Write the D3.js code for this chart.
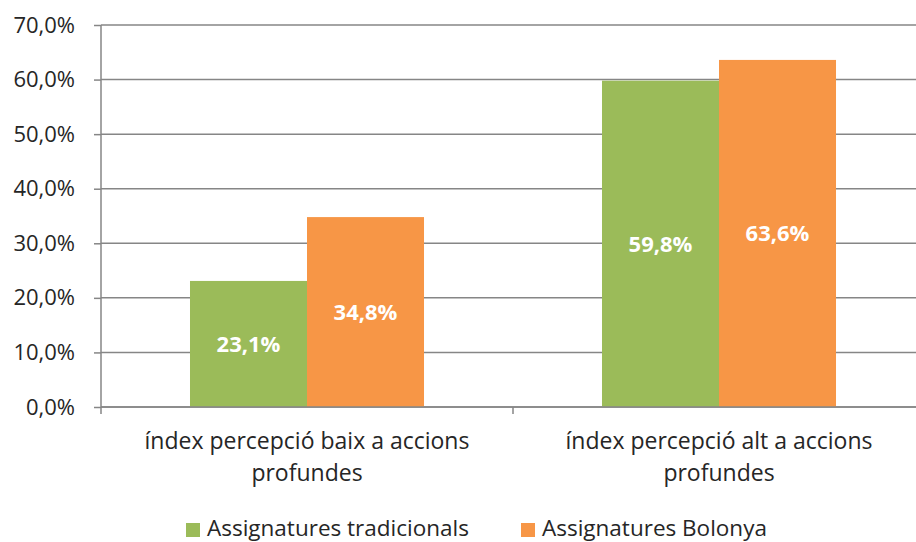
<!DOCTYPE html>
<html>
<head>
<meta charset="utf-8">
<script src="https://cdn.jsdelivr.net/npm/d3@7"></script>
<style>
  body { margin: 0; background: #fff; }
  svg { display: block; font-family: "Open Sans", sans-serif; }
  svg text { font-family: "Open Sans", sans-serif; }
</style>
</head>
<body>
<svg id="chart" width="916" height="542"></svg>
<script>
// data
const categories = [
  ["índex percepció baix a accions", "profundes"],
  ["índex percepció alt a accions", "profundes"]
];
const seriesNames = ["Assignatures tradicionals", "Assignatures Bolonya"];
const traditional = [23.1, 59.8];
const bologna = [34.8, 63.6];
const yTicks = [0, 10, 20, 30, 40, 50, 60, 70];
const colors = ["#9BBB59", "#F79646"];

const svg = d3.select("#chart");
const plotLeft = 101, plotRight = 925, plotTop = 25, plotBottom = 407;
const textColor = "#262626";
const gridColor = "#868686";

const x = d3.scaleBand()
  .domain(d3.range(categories.length))
  .range([plotLeft, plotRight])
  .paddingInner(0.432)
  .paddingOuter(0.216);

const xSub = d3.scaleBand()
  .domain(d3.range(seriesNames.length))
  .range([0, x.bandwidth()]);

const y = d3.scaleLinear()
  .domain([0, 70])
  .range([plotBottom, plotTop]);

const fmt = v => d3.format(".1f")(v).replace(".", ",") + "%";

// y axis ticks + labels
const yAxis = svg.append("g")
  .attr("transform", "translate(" + plotLeft + ",0)")
  .call(d3.axisLeft(y).tickValues(yTicks).tickSize(7).tickPadding(19).tickFormat(fmt));
yAxis.attr("font-family", null);
yAxis.select(".domain").remove();
yAxis.selectAll("line").attr("stroke", gridColor).attr("stroke-width", 1.5);
yAxis.selectAll("text")
  .attr("font-size", 22)
  .attr("fill", textColor);

// gridlines
svg.append("g")
  .selectAll("line")
  .data(yTicks)
  .enter()
  .append("line")
  .attr("x1", plotLeft)
  .attr("x2", 916)
  .attr("y1", d => y(d))
  .attr("y2", d => y(d))
  .attr("stroke", gridColor)
  .attr("stroke-width", 1.5);

// bars
const rows = [traditional, bologna];
const groups = svg.append("g")
  .selectAll("g")
  .data(categories.map((c, i) => i))
  .enter()
  .append("g")
  .attr("transform", i => "translate(" + x(i) + ",0)");

groups.selectAll("rect")
  .data(i => rows.map((r, s) => ({ s: s, v: r[i] })))
  .enter()
  .append("rect")
  .attr("x", d => xSub(d.s))
  .attr("width", xSub.bandwidth())
  .attr("y", d => y(d.v))
  .attr("height", d => y(0) - y(d.v))
  .attr("fill", d => colors[d.s]);

groups.selectAll("text")
  .data(i => rows.map((r, s) => ({ s: s, v: r[i] })))
  .enter()
  .append("text")
  .attr("x", d => xSub(d.s) + xSub.bandwidth() / 2)
  .attr("y", d => (y(d.v) + y(0)) / 2)
  .attr("dy", "0.36em")
  .attr("text-anchor", "middle")
  .attr("font-size", 22)
  .attr("font-weight", "bold")
  .attr("fill", "#fff")
  .text(d => fmt(d.v));

// y axis line
svg.append("line")
  .attr("x1", plotLeft).attr("x2", plotLeft)
  .attr("y1", plotTop).attr("y2", plotBottom)
  .attr("stroke", gridColor)
  .attr("stroke-width", 1.5);

// x axis
svg.append("line")
  .attr("x1", plotLeft).attr("x2", 916)
  .attr("y1", plotBottom).attr("y2", plotBottom)
  .attr("stroke", gridColor)
  .attr("stroke-width", 1.5);

const xTicks = [plotLeft, x(1) - x.step() * x.paddingInner() / 2, plotRight];
svg.append("g")
  .selectAll("line")
  .data(xTicks)
  .enter()
  .append("line")
  .attr("x1", d => d).attr("x2", d => d)
  .attr("y1", plotBottom).attr("y2", plotBottom + 7)
  .attr("stroke", gridColor)
  .attr("stroke-width", 1.5);

// category labels
const catLabels = svg.append("g")
  .selectAll("text")
  .data(categories)
  .enter()
  .append("text")
  .attr("text-anchor", "middle")
  .attr("font-size", 23)
  .attr("fill", textColor);
catLabels.selectAll("tspan")
  .data((c, i) => c.map(line => ({ line: line, i: i })))
  .enter()
  .append("tspan")
  .attr("x", d => x(d.i) + x.bandwidth() / 2)
  .attr("y", (d, j) => 449 + j * 32)
  .text(d => d.line);

// legend
const legendX = [186, 521];
const legend = svg.append("g")
  .selectAll("g")
  .data(seriesNames)
  .enter()
  .append("g")
  .attr("transform", (d, i) => "translate(" + legendX[i] + ",523)");
legend.append("rect")
  .attr("width", 14).attr("height", 14)
  .attr("fill", (d, i) => colors[i]);
legend.append("text")
  .attr("x", 21)
  .attr("y", 13)
  .attr("font-size", 22.5)
  .attr("fill", textColor)
  .text(d => d);
</script>
</body>
</html>
